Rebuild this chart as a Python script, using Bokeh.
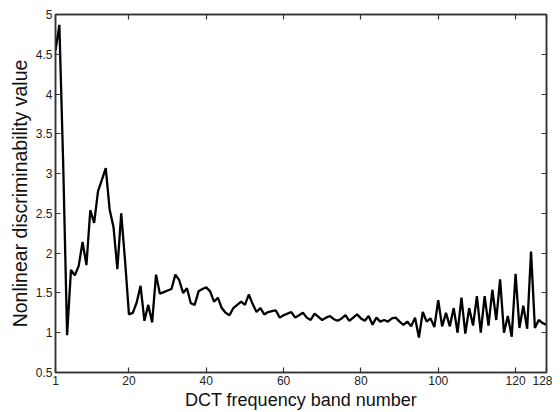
from bokeh.plotting import figure
from bokeh.models import Range1d, FixedTicker, LinearAxis, CustomJSTickFormatter
from bokeh.embed import file_html
from bokeh.resources import INLINE

band = list(range(1, 129))
value = [
    4.55, 4.87, 3.10, 0.97, 1.79, 1.72, 1.84, 2.14, 1.85, 2.54,
    2.38, 2.78, 2.92, 3.07, 2.55, 2.33, 1.80, 2.50, 1.90, 1.23,
    1.25, 1.38, 1.59, 1.15, 1.35, 1.13, 1.73, 1.49, 1.51, 1.53,
    1.55, 1.73, 1.66, 1.50, 1.56, 1.37, 1.35, 1.52, 1.55, 1.57,
    1.52, 1.39, 1.44, 1.31, 1.25, 1.22, 1.31, 1.35, 1.39, 1.35,
    1.48, 1.36, 1.26, 1.31, 1.23, 1.26, 1.27, 1.28, 1.19, 1.22,
    1.24, 1.26, 1.19, 1.22, 1.25, 1.19, 1.16, 1.24, 1.20, 1.16,
    1.19, 1.21, 1.17, 1.15, 1.18, 1.22, 1.15, 1.19, 1.23, 1.18,
    1.15, 1.21, 1.10, 1.19, 1.14, 1.16, 1.14, 1.18, 1.19, 1.14,
    1.10, 1.14, 1.08, 1.19, 0.94, 1.26, 1.14, 1.18, 1.07, 1.41,
    1.08, 1.25, 1.08, 1.31, 1.00, 1.44, 0.99, 1.31, 1.09, 1.46,
    1.00, 1.46, 1.09, 1.54, 1.16, 1.67, 1.00, 1.21, 0.95, 1.74,
    1.06, 1.34, 1.05, 2.02, 1.06, 1.16, 1.12, 1.10,
]
x_ticks = [1, 20, 40, 60, 80, 100, 120, 128]
y_ticks = [0.5, 1, 1.5, 2, 2.5, 3, 3.5, 4, 4.5, 5]

AX = "#333333"
FONT = "Liberation Sans"

p = figure(width=552, height=412, output_backend="svg", toolbar_location=None,
           x_range=Range1d(1, 128), y_range=Range1d(0.5, 5),
           min_border_left=55, min_border_right=6, min_border_top=14, min_border_bottom=39)
p.grid.visible = False
p.outline_line_color = AX
p.outline_line_width = 1.5
p.background_fill_color = "white"
p.border_fill_color = "white"

p.line(band, value, line_color="black", line_width=2.3)

fmt = CustomJSTickFormatter(code="return tick.toString();")
blank = CustomJSTickFormatter(code="return '';")

def style(ax, ticks, labels=True):
    ax.ticker = FixedTicker(ticks=ticks)
    ax.minor_tick_line_color = None
    ax.major_tick_in = 5
    ax.major_tick_out = 0
    ax.major_tick_line_color = AX
    ax.major_tick_line_width = 1.2
    ax.axis_line_color = AX
    ax.axis_line_width = 1.5
    if labels:
        ax.formatter = fmt
        ax.major_label_text_font = FONT
        ax.major_label_text_font_size = "12px"
        ax.major_label_text_color = "#222222"
        ax.major_label_standoff = 3
        ax.axis_label_text_font = FONT
        ax.axis_label_text_font_style = "normal"
        ax.axis_label_text_color = "#111111"
        ax.axis_label_standoff = 2
    else:
        ax.formatter = blank
        ax.major_label_standoff = 0

style(p.xaxis[0], x_ticks)
p.xaxis[0].axis_label = "DCT frequency band number"
p.xaxis[0].axis_label_text_font_size = "18px"
style(p.yaxis[0], y_ticks)
p.yaxis[0].axis_label = "Nonlinear discriminability value"
p.yaxis[0].axis_label_text_font_size = "19.5px"

top = LinearAxis()
style(top, x_ticks, labels=False)
p.add_layout(top, "above")
right = LinearAxis()
style(right, y_ticks, labels=False)
p.add_layout(right, "right")

open("out.html", "w").write(file_html(p, INLINE))
